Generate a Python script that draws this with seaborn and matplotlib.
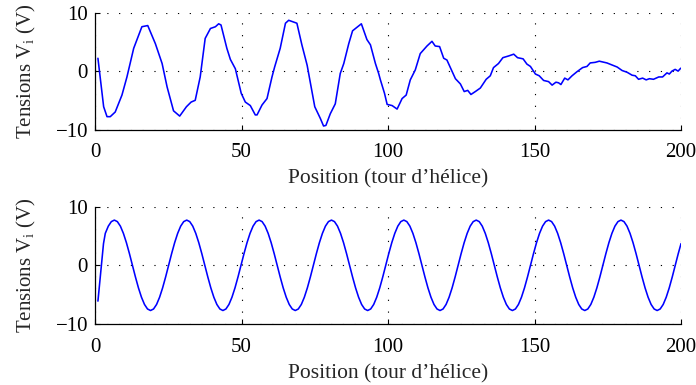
import matplotlib
matplotlib.use("Agg")
import matplotlib.pyplot as plt
import seaborn as sns
import pandas as pd

# ---- data ----
pos_mesure = [1.0, 2.95, 4.1, 5.2, 6.9, 9.2, 10.9, 13.2, 16.0, 18.0, 20.6, 22.9, 24.6, 26.8,
              28.9, 31.2, 32.8, 34.2, 35.9, 37.6, 39.4, 41.1, 42.2, 43.0, 45.0, 46.2, 47.9,
              49.9, 51.3, 53.0, 54.7, 55.3, 57.0, 58.7, 60.4, 61.3, 63.2, 65.0, 66.1, 68.9,
              70.6, 72.4, 75.0, 76.9, 78.0, 78.8, 80.3, 82.0, 83.7, 84.9, 86.6, 87.9, 90.9,
              92.8, 94.0, 95.7, 96.8, 97.4, 98.8, 99.7, 101.4, 103.1, 104.8, 106.2, 107.6,
              109.3, 111.0, 113.3, 115.0, 116.1, 117.6, 119.0, 120.1, 123.0, 124.7, 126.0,
              127.2, 128.3, 129.8, 131.5, 133.5, 134.9, 136.0, 137.7, 139.2, 141.2, 142.9,
              144.2, 146.1, 147.4, 148.6, 150.3, 151.6, 153.1, 154.8, 156.0, 157.3, 158.2,
              159.0, 160.3, 161.4, 162.8, 164.5, 166.4, 167.9, 169.0, 170.7, 172.1, 174.7,
              176.7, 178.2, 179.9, 181.6, 183.3, 184.4, 185.5, 186.9, 188.1, 189.2, 190.6,
              192.4, 193.7, 195.2, 196.0, 196.9, 198.0, 199.0, 199.9]
v_mesure = [2.2, -6.1, -7.8, -7.8, -7.0, -4.1, -1.0, 3.9, 7.6, 7.8, 4.7, 1.3, -2.7, -6.8,
            -7.7, -6.1, -5.3, -5.0, -1.0, 5.6, 7.3, 7.6, 8.1, 7.9, 3.9, 2.0, 0.4,
            -3.8, -5.3, -5.9, -7.5, -7.5, -5.8, -4.7, -1.0, 0.7, 3.9, 8.2, 8.7, 8.2,
            4.5, 1.0, -6.1, -8.1, -9.4, -9.3, -7.3, -5.6, -0.4, 1.3, 4.7, 6.9, 8.1,
            5.4, 4.5, 1.3, -0.4, -1.5, -3.8, -5.7, -5.9, -6.5, -4.7, -4.1, -1.5,
            0.2, 3.0, 4.3, 5.1, 4.3, 4.2, 2.2, 1.9, -1.3, -2.2, -3.5,
            -3.3, -4.0, -3.5, -2.9, -1.4, -0.8, 0.6, 1.3, 2.3, 2.6, 2.9,
            2.3, 2.1, 1.2, 0.8, -0.5, -0.8, -1.6, -1.8, -2.4, -1.9, -2.0,
            -2.3, -1.2, -1.5, -0.8, -0.1, 0.6, 0.8, 1.4, 1.5, 1.7, 1.4,
            1.0, 0.7, 0.1, -0.2, -0.7, -0.8, -1.4, -1.2, -1.5, -1.3, -1.4,
            -1.0, -1.0, -0.3, -0.5, 0.0, 0.3, 0.0, 0.5]

pos_modele = [1.0, 2.9,
              3.51, 4.54, 5.57, 6.60, 7.63, 8.66, 9.69, 10.72, 11.75, 12.78, 13.80, 14.83,
              15.86, 16.89, 17.92, 18.95, 19.98, 21.01, 22.04, 23.07, 24.10,
              25.13, 26.15, 27.18, 28.21, 29.24, 30.27, 31.30, 32.33, 33.36, 34.39, 35.42, 36.45,
              37.48, 38.50, 39.53, 40.56, 41.59, 42.62, 43.65, 44.68, 45.71, 46.74, 47.77, 48.80,
              49.83, 50.85, 51.88, 52.91, 53.94, 54.97, 56.00, 57.03, 58.06, 59.09, 60.12, 61.15,
              62.18, 63.20, 64.23, 65.26, 66.29, 67.32, 68.35, 69.38, 70.41, 71.44, 72.47, 73.50,
              74.53, 75.55, 76.58, 77.61, 78.64, 79.67, 80.70, 81.73, 82.76, 83.79, 84.82, 85.85,
              86.88, 87.90, 88.93, 89.96, 90.99, 92.02, 93.05, 94.08, 95.11, 96.14, 97.17, 98.20,
              99.23, 100.25, 101.28, 102.31, 103.34, 104.37, 105.40, 106.43, 107.46, 108.49, 109.52, 110.55,
              111.58, 112.60, 113.63, 114.66, 115.69, 116.72, 117.75, 118.78, 119.81, 120.84, 121.87, 122.90,
              123.93, 124.95, 125.98, 127.01, 128.04, 129.07, 130.10, 131.13, 132.16, 133.19, 134.22, 135.25,
              136.28, 137.30, 138.33, 139.36, 140.39, 141.42, 142.45, 143.48, 144.51, 145.54, 146.57, 147.60,
              148.63, 149.65, 150.68, 151.71, 152.74, 153.77, 154.80, 155.83, 156.86, 157.89, 158.92, 159.95,
              160.98, 162.00, 163.03, 164.06, 165.09, 166.12, 167.15, 168.18, 169.21, 170.24, 171.27, 172.30,
              173.33, 174.35, 175.38, 176.41, 177.44, 178.47, 179.50, 180.53, 181.56, 182.59, 183.62, 184.65,
              185.68, 186.70, 187.73, 188.76, 189.79, 190.82, 191.85, 192.88, 193.91, 194.94, 195.97, 197.00,
              198.03, 199.05, 200.0]
v_modele = [-6.1, 3.7,
            5.44, 6.67, 7.44, 7.70, 7.44, 6.67, 5.44, 3.85, 1.99, 0.0, -1.99, -3.85,
            -5.44, -6.67, -7.44, -7.70, -7.44, -6.67, -5.44, -3.85, -1.99,
            0.0, 1.99, 3.85, 5.44, 6.67, 7.44, 7.70, 7.44, 6.67, 5.44, 3.85, 1.99,
            0.0, -1.99, -3.85, -5.44, -6.67, -7.44, -7.70, -7.44, -6.67, -5.44, -3.85, -1.99,
            0.0, 1.99, 3.85, 5.44, 6.67, 7.44, 7.70, 7.44, 6.67, 5.44, 3.85, 1.99,
            0.0, -1.99, -3.85, -5.44, -6.67, -7.44, -7.70, -7.44, -6.67, -5.44, -3.85, -1.99,
            0.0, 1.99, 3.85, 5.44, 6.67, 7.44, 7.70, 7.44, 6.67, 5.44, 3.85, 1.99,
            0.0, -1.99, -3.85, -5.44, -6.67, -7.44, -7.70, -7.44, -6.67, -5.44, -3.85, -1.99,
            0.0, 1.99, 3.85, 5.44, 6.67, 7.44, 7.70, 7.44, 6.67, 5.44, 3.85, 1.99,
            0.0, -1.99, -3.85, -5.44, -6.67, -7.44, -7.70, -7.44, -6.67, -5.44, -3.85, -1.99,
            0.0, 1.99, 3.85, 5.44, 6.67, 7.44, 7.70, 7.44, 6.67, 5.44, 3.85, 1.99,
            0.0, -1.99, -3.85, -5.44, -6.67, -7.44, -7.70, -7.44, -6.67, -5.44, -3.85, -1.99,
            0.0, 1.99, 3.85, 5.44, 6.67, 7.44, 7.70, 7.44, 6.67, 5.44, 3.85, 1.99,
            0.0, -1.99, -3.85, -5.44, -6.67, -7.44, -7.70, -7.44, -6.67, -5.44, -3.85, -1.99,
            0.0, 1.99, 3.85, 5.44, 6.67, 7.44, 7.70, 7.44, 6.67, 5.44, 3.85, 1.99,
            0.0, -1.99, -3.85, -5.44, -6.67, -7.44, -7.70, -7.44, -6.67, -5.44, -3.85, -1.99,
            0.0, 1.99, 3.7]

x_ticks = [0, 50, 100, 150, 200]
y_ticks = [-10, 0, 10]
x_label = "Position (tour d\u2019h\u00e9lice)"
y_label = "Tensions V$_\\mathregular{i}$ (V)"

# ---- style ----
sns.set_theme(style="ticks")
plt.rcParams.update({
    "font.family": ["Liberation Serif", "DejaVu Serif"],
    "mathtext.fontset": "custom",
    "mathtext.rm": "Liberation Serif",
    "mathtext.it": "Liberation Serif:italic",
    "font.size": 15,
    "axes.linewidth": 0.9,
    "axes.edgecolor": "black",
    "xtick.direction": "in",
    "ytick.direction": "in",
    "xtick.color": "black",
    "ytick.color": "black",
    "axes.unicode_minus": True,
})

fig = plt.figure(figsize=(6.96, 3.85), dpi=100)
ax1 = fig.add_axes([0.1365, 0.6636, 0.842, 0.3034])
ax2 = fig.add_axes([0.1365, 0.1584, 0.842, 0.305])

df1 = pd.DataFrame({"pos": pos_mesure, "v": v_mesure})
df2 = pd.DataFrame({"pos": pos_modele, "v": v_modele})

for ax, df in ((ax1, df1), (ax2, df2)):
    sns.lineplot(data=df, x="pos", y="v", ax=ax, color="#0000ff", linewidth=1.15,
                 estimator=None, sort=False, zorder=3)
    ax.set_xlim(0, 200)
    ax.set_ylim(-10, 10)
    ax.set_xticks(x_ticks)
    ax.set_yticks(y_ticks)
    ax.grid(True, color="black", linewidth=0.8, linestyle=(0, (1.1, 9.5)))
    ax.set_axisbelow(True)
    for s in ("top", "right"):
        ax.spines[s].set_visible(False)
    ax.tick_params(axis="both", length=3.6, width=0.8, labelsize=15, colors="black")
    ax.tick_params(axis="x", pad=10)
    ax.tick_params(axis="y", pad=5)
    ax.set_xlabel(x_label, fontsize=15.5, labelpad=5)
    ax.set_ylabel(y_label, fontsize=15)
    ax.yaxis.set_label_coords(-0.097, 0.5)
    ax.set_facecolor("white")

fig.savefig("out.png", dpi=100, facecolor="white")
